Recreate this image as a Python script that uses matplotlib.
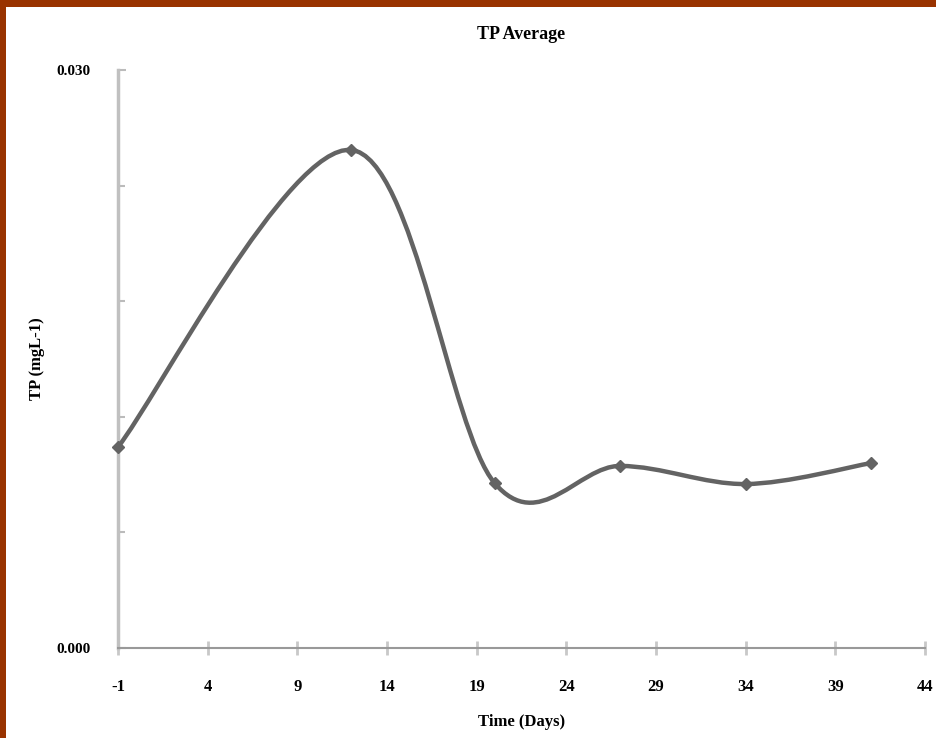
import numpy as np
import matplotlib
matplotlib.use("Agg")
import matplotlib.pyplot as plt
from matplotlib.path import Path
from matplotlib.patches import PathPatch, Rectangle

days = [-1, 12, 20, 27, 34, 41]
tp = [0.01043, 0.02585, 0.00856, 0.00945, 0.00851, 0.00960]
xticks = [-1, 4, 9, 14, 19, 24, 29, 34, 39, 44]
ytick_major = [0.000, 0.030]
ytick_labels = ["0.000", "0.030"]
ytick_minor = [0.006, 0.012, 0.018, 0.024]

plt.rcParams['font.family'] = ['Liberation Serif', 'DejaVu Serif']

fig = plt.figure(figsize=(9.37, 7.38), dpi=100)
ax = fig.add_axes([118/937, 1-648/738, (925-118)/937, (648-70)/738])

# smooth line (Excel style cubic Bezier through points)
P = np.column_stack([days, tp])
sx = (925-118)/45.0
sy = 578/0.030
Q = P * np.array([sx, sy])
verts = [Q[0]]
codes = [Path.MOVETO]
n = len(Q)
for i in range(n-1):
    p0 = Q[i-1] if i > 0 else Q[i]
    p1 = Q[i]
    p2 = Q[i+1]
    p3 = Q[i+2] if i+2 < n else Q[i+1]
    c1 = p1 + (p2 - p0) / 6.0
    c2 = p2 - (p3 - p1) / 6.0
    verts += [c1, c2, p2]
    codes += [Path.CURVE4]*3
verts = np.array(verts) / np.array([sx, sy])
patch = PathPatch(Path(verts, codes), facecolor='none', edgecolor='#636363', lw=3.2,
                  capstyle='round', joinstyle='round', zorder=3)
ax.add_patch(patch)
ax.plot(days, tp, linestyle='none', marker='D', markersize=6, color='#636363', zorder=4,
        clip_on=False)

ax.set_xlim(-1, 44)
ax.set_ylim(0, 0.030)
ax.set_xticks(xticks)
ax.set_xticklabels([str(v) for v in xticks], fontsize=12, fontweight='bold')
ax.set_yticks(ytick_major)
ax.set_yticklabels(ytick_labels, fontsize=11, fontweight='bold')
ax.set_yticks(ytick_minor, minor=True)

for s in ['top', 'right']:
    ax.spines[s].set_visible(False)
ax.spines['left'].set_color('#c0c0c0')
ax.spines['left'].set_linewidth(2.5)
ax.spines['bottom'].set_color('#999999')
ax.spines['bottom'].set_linewidth(1.5)

ax.tick_params(axis='x', direction='inout', length=10, width=2, color='#c8c8c8', pad=17)
ax.tick_params(axis='y', which='both', direction='in', length=6, width=1.5, color='#bbbbbb', pad=20)
ax.tick_params(axis='y', which='minor', length=5)

ax.set_title("TP Average", fontsize=13, fontweight='bold', pad=22)
ax.set_xlabel("Time (Days)", fontsize=12, fontweight='bold', labelpad=14)
ax.set_ylabel("TP (mgL-1)", fontsize=12, fontweight='bold', labelpad=8)

# border
fig.patches.append(Rectangle((0, 1-7/738), 1, 7/738, transform=fig.transFigure,
                             facecolor='#993300', edgecolor='none', zorder=10))
fig.patches.append(Rectangle((0, 0), 6/937, 1, transform=fig.transFigure,
                             facecolor='#993300', edgecolor='none', zorder=10))

fig.savefig("out.png", dpi=100)
